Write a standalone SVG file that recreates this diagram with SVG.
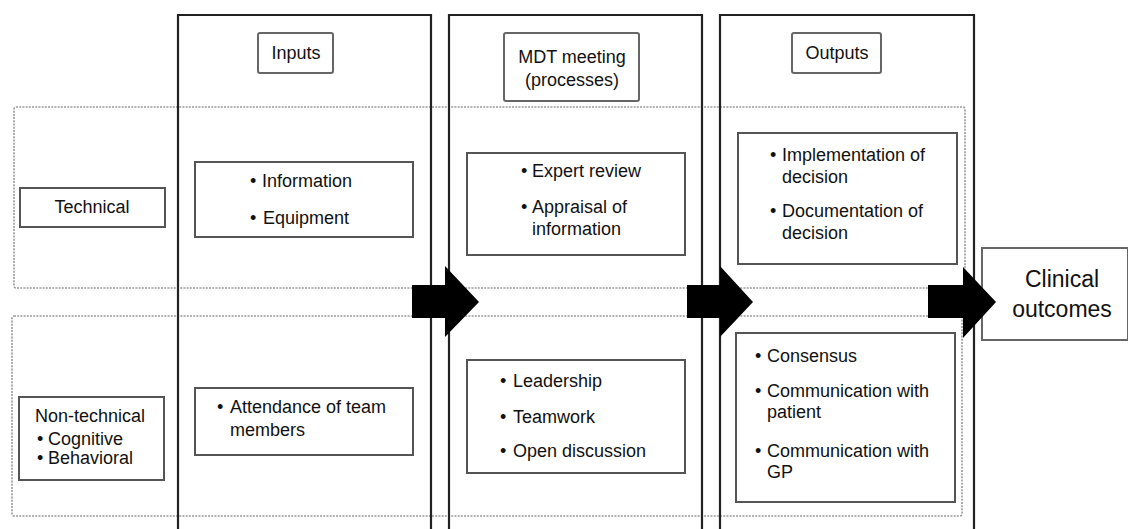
<svg xmlns="http://www.w3.org/2000/svg" width="1128" height="529" viewBox="0 0 1128 529">
<style>
text{font-family:"Liberation Sans",Arial,sans-serif;font-size:18px;fill:#111}
.col{fill:none;stroke:#222;stroke-width:2.2}
.row{fill:none;stroke:#999;stroke-width:1.6;stroke-dasharray:2 1.2}
.box{fill:#fff;stroke:#555;stroke-width:2}
.hdr{fill:#fff;stroke:#666;stroke-width:2}
.arrow{fill:#000}
.c{text-anchor:middle}
.big{font-size:23px}
</style>
<rect width="1128" height="529" fill="#fff"/>
<g id="rows">
<rect class="row" x="14" y="107" width="951" height="181" rx="2"/>
<rect class="row" x="12" y="316" width="950" height="200" rx="2"/>
</g>
<g id="columns">
<path id="col-inputs" class="col" d="M178,529 V15 H431 V529"/>
<path id="col-mdt" class="col" d="M449,529 V15 H702 V529"/>
<path id="col-outputs" class="col" d="M720,529 V15 H974 V529"/>
</g>
<g id="hdr-inputs"><rect class="hdr" x="258" y="33" width="75" height="40" rx="2"/><text class="c" x="296" y="59">Inputs</text></g>
<g id="hdr-mdt"><rect class="hdr" x="504" y="33" width="135" height="68" rx="2"/><text class="c" x="572" y="63">MDT meeting</text><text class="c" x="572" y="86">(processes)</text></g>
<g id="hdr-outputs"><rect class="hdr" x="792" y="33" width="89" height="40" rx="2"/><text class="c" x="837" y="59">Outputs</text></g>
<g id="technical"><rect class="box" x="20" y="188" width="145" height="39"/><text class="c" x="92" y="213">Technical</text></g>
<g id="nontechnical"><rect class="box" x="19" y="397" width="145" height="83"/><text x="35" y="422">Non-technical</text><text x="37" y="445">•</text><text x="48" y="445">Cognitive</text><text x="37" y="464">•</text><text x="48" y="464">Behavioral</text></g>
<g id="inputs-tech"><rect class="box" x="195" y="162" width="218" height="75"/><text x="250" y="187">•</text><text x="262" y="187">Information</text><text x="250" y="224">•</text><text x="263" y="224">Equipment</text></g>
<g id="inputs-nontech"><rect class="box" x="195" y="388" width="218" height="67"/><text x="217" y="413">•</text><text x="230" y="413">Attendance of team</text><text x="230" y="436">members</text></g>
<g id="mdt-tech"><rect class="box" x="467" y="153" width="218" height="102"/><text x="521" y="177">•</text><text x="532" y="177">Expert review</text><text x="521" y="213">•</text><text x="532" y="213">Appraisal of</text><text x="532" y="235">information</text></g>
<g id="mdt-nontech"><rect class="box" x="467" y="360" width="218" height="113"/><text x="500" y="387">•</text><text x="513" y="387">Leadership</text><text x="500" y="423">•</text><text x="513" y="423">Teamwork</text><text x="500" y="457">•</text><text x="513" y="457">Open discussion</text></g>
<g id="out-tech"><rect class="box" x="738" y="133" width="219" height="131"/><text x="770" y="161">•</text><text x="782" y="161">Implementation of</text><text x="782" y="183">decision</text><text x="770" y="217">•</text><text x="782" y="217">Documentation of</text><text x="782" y="239">decision</text></g>
<g id="out-nontech"><rect class="box" x="736" y="333" width="219" height="169"/><text x="755" y="362">•</text><text x="767" y="362">Consensus</text><text x="755" y="397">•</text><text x="767" y="397">Communication with</text><text x="767" y="418">patient</text><text x="755" y="457">•</text><text x="767" y="457">Communication with</text><text x="767" y="478">GP</text></g>
<g id="clinical"><rect class="hdr" x="982" y="248" width="146" height="92"/><text class="c big" x="1062" y="287">Clinical</text><text class="c big" x="1062" y="317">outcomes</text></g>
<g id="connectors">
<polygon class="arrow" points="412,285 445,285 445,266 479,302 445,337 445,318 412,318"/>
<polygon class="arrow" points="687,285 720,285 720,266 753,302 720,337 720,318 687,318"/>
<polygon class="arrow" points="928,285 963,285 963,267 996,302 963,338 963,318 928,318"/>
</g>
</svg>
